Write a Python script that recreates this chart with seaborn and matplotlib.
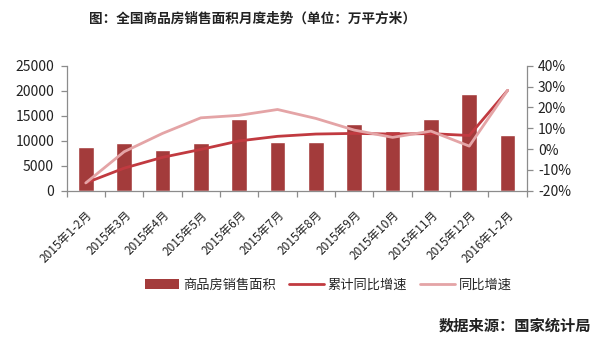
import numpy as np
import pandas as pd
import matplotlib
matplotlib.use("Agg")
import matplotlib.pyplot as plt
import seaborn as sns
from matplotlib.patches import Patch
from matplotlib.lines import Line2D
from matplotlib.ticker import FuncFormatter, FixedLocator

months = ["2015年1-2月", "2015年3月", "2015年4月", "2015年5月", "2015年6月", "2015年7月",
          "2015年8月", "2015年9月", "2015年10月", "2015年11月", "2015年12月", "2016年1-2月"]
sales_area = [8786, 9480, 8200, 9600, 14340, 9680, 9800, 13340, 12000, 14400, 19340, 11200]
cum_yoy = [-16.3, -9.2, -4.0, -0.2, 3.9, 6.1, 7.2, 7.5, 7.2, 7.4, 6.5, 28.2]
yoy = [-16.3, -1.3, 7.5, 15.0, 16.2, 19.0, 14.7, 9.1, 5.6, 8.6, 1.4, 28.2]

sns.set_theme(style="white")
plt.rcParams["font.family"] = ["Noto Sans CJK SC", "DejaVu Sans"]

BAR = "#A33B3B"
CUM = "#C13A40"
YOY = "#E4A4A6"
GREY = "#8C8C8C"
TXT = "#222222"

df = pd.DataFrame({"month": months, "area": sales_area,
                   "cum": cum_yoy, "yoy": yoy, "pos": np.arange(len(months))})

fig = plt.figure(figsize=(6.0, 3.41), dpi=100)
ax = fig.add_axes([0.111, 0.441, 0.767, 0.366])

sns.barplot(data=df, x="month", y="area", color=BAR, width=0.41,
            saturation=1, ax=ax, zorder=2)
ax.set_xlim(-0.5, len(months) - 0.5)
ax.set_ylim(0, 25000)
ax.set_yticks(range(0, 25001, 5000))
ax.set_xlabel("")
ax.set_ylabel("")

ax2 = ax.twinx()
sns.lineplot(data=df, x="pos", y="cum", color=CUM, linewidth=2, ax=ax2, zorder=3)
sns.lineplot(data=df, x="pos", y="yoy", color=YOY, linewidth=2, ax=ax2, zorder=4)
ax2.set_ylim(-20, 40)
ax2.set_yticks(range(-20, 41, 10))
ax2.yaxis.set_major_formatter(FuncFormatter(lambda v, p: f"{int(v)}%"))
ax2.set_xlabel("")
ax2.set_ylabel("")
ax2.set_xlim(-0.5, len(months) - 0.5)

for a in (ax, ax2):
    for s in a.spines.values():
        s.set_color(GREY)
        s.set_linewidth(0.9)
    a.spines["top"].set_visible(False)
ax.spines["right"].set_visible(False)
ax2.spines["left"].set_visible(False)
ax2.spines["bottom"].set_visible(False)

ax.tick_params(axis="y", length=4, width=0.9, color=GREY, labelsize=10,
               labelcolor=TXT, pad=5, left=True)
ax2.tick_params(axis="y", length=4, width=0.9, color=GREY, labelsize=10,
                labelcolor=TXT, pad=4, right=True)

# category labels under each bar, separator ticks between categories
ax.set_xticks(np.arange(len(months)))
ax.set_xticklabels(months, rotation=45, ha="right", rotation_mode="anchor",
                   fontsize=8.5, color=TXT)
ax.tick_params(axis="x", which="major", length=0, pad=13)
ax.xaxis.set_minor_locator(FixedLocator(np.arange(-0.5, len(months), 1.0)))
ax.tick_params(axis="x", which="minor", length=4, width=0.9, color=GREY, bottom=True)

fig.text(0.42, 0.945, "图：全国商品房销售面积月度走势（单位：万平方米）",
         ha="center", va="center", fontsize=9.8, fontweight="bold", color=TXT)

handles = [Patch(facecolor=BAR, edgecolor="none"),
           Line2D([], [], color=CUM, linewidth=2),
           Line2D([], [], color=YOY, linewidth=2)]
fig.legend(handles, ["商品房销售面积", "累计同比增速", "同比增速"],
           loc="center left", bbox_to_anchor=(0.233, 0.163), ncol=3, frameon=False,
           fontsize=9.5, handlelength=2.6, handleheight=0.8, handletextpad=0.3,
           columnspacing=1.0, borderaxespad=0)

fig.text(0.985, 0.045, "数据来源：国家统计局", ha="right", va="center",
         fontsize=11, fontweight="bold", color=TXT)

fig.savefig("out.png", dpi=100, facecolor="white")
